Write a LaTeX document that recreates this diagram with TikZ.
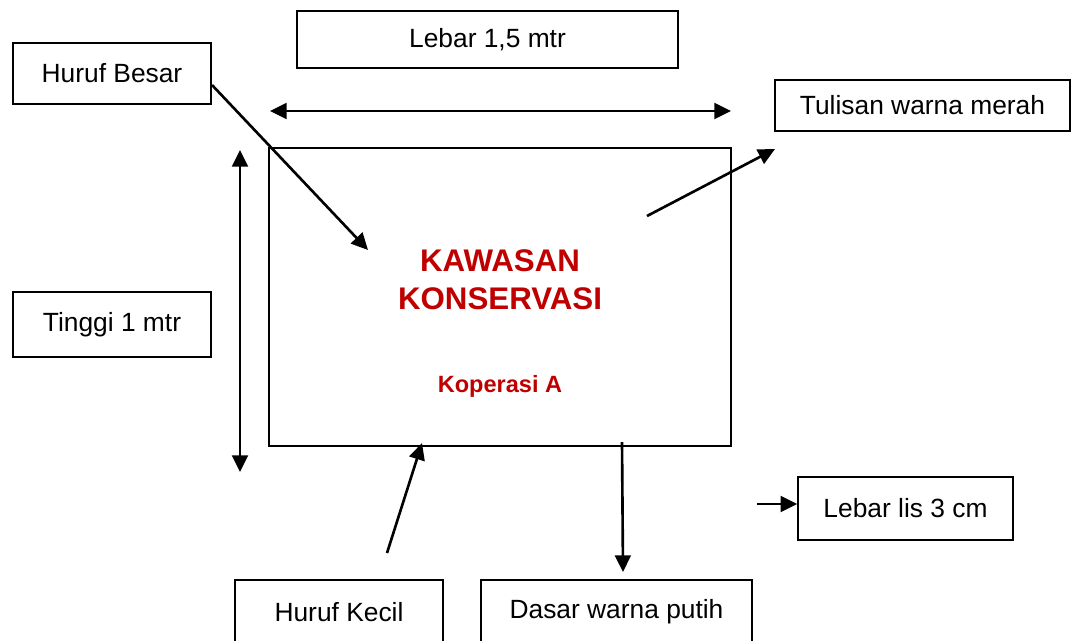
\documentclass[tikz,border=0pt]{standalone}
\usepackage{fontspec}
\setmainfont{Liberation Sans}
\definecolor{merah}{HTML}{C00000}
\usetikzlibrary{arrows.meta,positioning}

\begin{document}
\begin{tikzpicture}[
  x=0.02cm, y=-0.02cm,
  kotak/.style={rectangle, draw=black, line width=0.8pt, fill=white,
    inner sep=0pt, align=center, font=\fontsize{15}{18}\selectfont},
  judul/.style={text=merah, align=center,
    font=\bfseries\fontsize{17.8}{21.5}\selectfont},
  panah/.style={-{Triangle[length=9.5pt,width=9pt]}, line width=1.5pt},
  dua/.style={{Triangle[length=9.5pt,width=9pt]}-{Triangle[length=9.5pt,width=9pt]},
    line width=1.5pt},
]
  \clip (0,0) rectangle (1077,640);
  \fill[white] (0,0) rectangle (1077,640);

  % papan nama
  \node[kotak, minimum width=9.24cm, minimum height=5.96cm] (papan) at (500,297) {};
  \node[judul] (nama) at (500,280) {KAWASAN\\KONSERVASI};
  \node[judul, font=\bfseries\fontsize{13.4}{16}\selectfont] (kop) at (500,386) {Koperasi A};

  % keterangan
  \node[kotak, minimum width=7.62cm, minimum height=1.14cm] (lebar) at (487.5,39.5) {Lebar 1,5 mtr};
  \node[kotak, minimum width=3.96cm, minimum height=1.22cm] (besar) at (112,73.5) {Huruf Besar};
  \node[kotak, minimum width=5.9cm, minimum height=1.02cm] (merahbox) at (922.5,105.5) {Tulisan warna merah};
  \node[kotak, minimum width=3.96cm, minimum height=1.3cm] (tinggi) at (112,324.5) {Tinggi 1 mtr};
  \node[kotak, minimum width=4.3cm, minimum height=1.26cm] (lis) at (905.5,508.5) {Lebar lis 3 cm};
  \node[kotak, minimum width=4.16cm, minimum height=1.28cm] (kecil) at (339,612) {Huruf Kecil};
  \node[kotak, minimum width=5.42cm, minimum height=1.28cm] (putih) at (616.5,612) {Dasar warna putih};

  % ujung panah
  \coordinate (lkiri) at (270,111);
  \coordinate (lkanan) at (731,111);
  \coordinate (tatas) at (240,150);
  \coordinate (tbawah) at (240,472);
  \coordinate (besarA) at (212,85);
  \coordinate (besarB) at (368,250);
  \coordinate (merahA) at (647,216);
  \coordinate (merahB) at (775,149);
  \coordinate (kecilA) at (387,553);
  \coordinate (kecilB) at (422,443);
  \coordinate (putihA) at (622,442);
  \coordinate (putihB) at (623,572);
  \coordinate (lisA) at (757,504);

  \draw[dua] (lkiri) -- (lkanan);
  \draw[dua] (tatas) -- (tbawah);
  \draw[panah] (besarA) -- (besarB);
  \draw[panah] (merahA) -- (merahB);
  \draw[panah] (kecilA) -- (kecilB);
  \draw[panah] (putihA) -- (putihB);
  \draw[panah] (lisA) -- (lis.west |- lisA);
\end{tikzpicture}
\end{document}
